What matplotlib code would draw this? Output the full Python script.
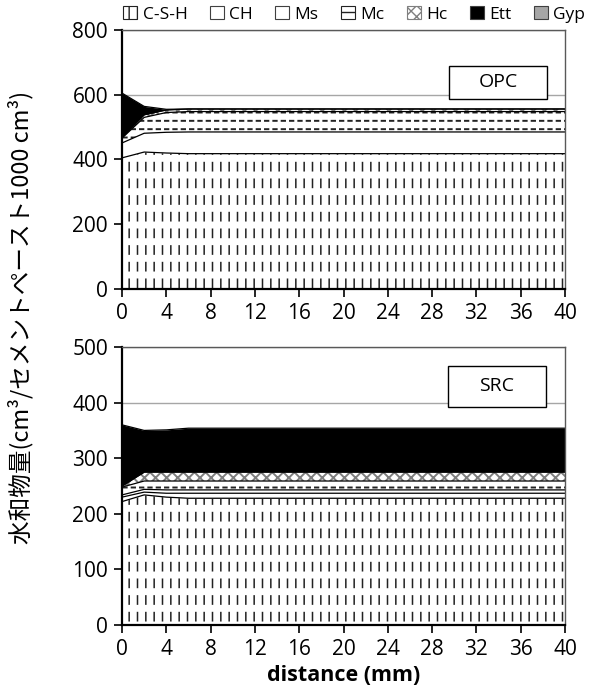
import numpy as np
import matplotlib.pyplot as plt
from matplotlib.patches import Patch, Rectangle

# distance from exposed surface (mm)
distance = [0, 2, 4, 6, 8, 10, 12, 14, 16, 18, 20, 22, 24, 26, 28, 30, 32, 34, 36, 38, 40]

# OPC hydrate volumes (cm3 / 1000 cm3 paste)
opc_csh = [405, 423, 420, 418, 418, 418, 418, 418, 418, 418, 418, 418, 418, 418, 418, 418, 418, 418, 418, 418, 418]
opc_ch = [46, 58, 64, 67, 67, 67, 67, 67, 67, 67, 67, 67, 67, 67, 67, 67, 67, 67, 67, 67, 67]
opc_ms = [0, 0, 0, 0, 0, 0, 0, 0, 0, 0, 0, 0, 0, 0, 0, 0, 0, 0, 0, 0, 0]
opc_mc = [15, 49, 61, 63, 63, 63, 63, 63, 63, 63, 63, 63, 63, 63, 63, 63, 63, 63, 63, 63, 63]
opc_hc = [2, 8, 8, 8, 8, 8, 8, 8, 8, 8, 8, 8, 8, 8, 8, 8, 8, 8, 8, 8, 8]
opc_ett = [137, 26, 2, 0, 0, 0, 0, 0, 0, 0, 0, 0, 0, 0, 0, 0, 0, 0, 0, 0, 0]
opc_gyp = [0, 0, 0, 0, 0, 0, 0, 0, 0, 0, 0, 0, 0, 0, 0, 0, 0, 0, 0, 0, 0]

# SRC hydrate volumes
src_csh = [222, 234, 230, 228, 228, 228, 228, 228, 228, 228, 228, 228, 228, 228, 228, 228, 228, 228, 228, 228, 228]
src_ch = [8, 5, 7, 9, 9, 9, 9, 9, 9, 9, 9, 9, 9, 9, 9, 9, 9, 9, 9, 9, 9]
src_ms = [4, 5, 6, 6, 6, 6, 6, 6, 6, 6, 6, 6, 6, 6, 6, 6, 6, 6, 6, 6, 6]
src_mc = [14, 15, 16, 16, 16, 16, 16, 16, 16, 16, 16, 16, 16, 16, 16, 16, 16, 16, 16, 16, 16]
src_hc = [2, 16, 16, 16, 16, 16, 16, 16, 16, 16, 16, 16, 16, 16, 16, 16, 16, 16, 16, 16, 16]
src_ett = [110, 75, 76, 79, 79, 79, 79, 79, 79, 79, 79, 79, 79, 79, 79, 79, 79, 79, 79, 79, 79]
src_gyp = [0, 0, 0, 0, 0, 0, 0, 0, 0, 0, 0, 0, 0, 0, 0, 0, 0, 0, 0, 0, 0]

phases = ['C-S-H', 'CH', 'Ms', 'Mc', 'Hc', 'Ett', 'Gyp']
x_ticks = [0, 4, 8, 12, 16, 20, 24, 28, 32, 36, 40]

# fill style per phase: face, hatch, hatch colour, white "breaker" hatch
styles = {
    'C-S-H': ('white', '||', '#222222', '-'),
    'CH': ('white', None, None, None),
    'Ms': ('white', None, None, None),
    'Mc': ('white', '--', '#222222', '||'),
    'Hc': ('white', 'xxx', '#7f7f7f', None),
    'Ett': ('black', None, None, None),
    'Gyp': ('#a6a6a6', None, None, None),
}

plt.rcParams['font.family'] = ['Open Sans', 'DejaVu Sans']


def hatched(ax, x, lo, hi, face, hatch, hcolor, lw):
    with plt.rc_context({'hatch.linewidth': lw}):
        coll = ax.fill_between(x, lo, hi, facecolor=face,
                               edgecolor=hcolor if hcolor else face,
                               hatch=hatch, linewidth=0)
    if hasattr(coll, 'set_hatch_linewidth'):
        coll.set_hatch_linewidth(lw)
    return coll


def draw_stack(ax, layers):
    x = np.array(distance)
    base = np.zeros(len(x))
    for name, vals in zip(phases, layers):
        top = base + np.array(vals)
        face, hatch, hcol, breaker = styles[name]
        if np.any(top > base):
            hatched(ax, x, base, top, face, hatch, hcol,
                    1.1 if name == 'C-S-H' else 1.4)
            if breaker:
                # white strokes chop the hatch lines into short dashes
                hatched(ax, x, base, top, 'none', breaker, 'white',
                        5.0 if name == 'C-S-H' else 2.2)
            ax.plot(x, top, color='black', lw=0.9)
        base = top


fig = plt.figure(figsize=(5.94, 6.91), dpi=100)
ax1 = fig.add_axes([0.2054, 0.5818, 0.7458, 0.3748])
ax2 = fig.add_axes([0.2054, 0.0955, 0.7458, 0.4023])

draw_stack(ax1, [opc_csh, opc_ch, opc_ms, opc_mc, opc_hc, opc_ett, opc_gyp])
draw_stack(ax2, [src_csh, src_ch, src_ms, src_mc, src_hc, src_ett, src_gyp])

ax1.set_ylim(0, 800)
ax1.set_yticks([0, 200, 400, 600, 800])
ax2.set_ylim(0, 500)
ax2.set_yticks([0, 100, 200, 300, 400, 500])

for ax in (ax1, ax2):
    ax.set_xlim(0, 40)
    ax.set_xticks(x_ticks)
    ax.yaxis.grid(True, color='#a6a6a6', lw=1)
    ax.set_axisbelow(True)
    ax.tick_params(labelsize=15, direction='out', length=6, width=1.2, pad=4)
    for s in ('left', 'bottom'):
        ax.spines[s].set_linewidth(1.6)
        ax.spines[s].set_color('black')
    for s in ('top', 'right'):
        ax.spines[s].set_linewidth(1.0)
        ax.spines[s].set_color('#595959')

# sample name boxes
for ax, name, (x0, y0, w, h) in ((ax1, 'OPC', (0.738, 0.734, 0.221, 0.127)),
                                 (ax2, 'SRC', (0.736, 0.784, 0.221, 0.148))):
    ax.add_patch(Rectangle((x0, y0), w, h, transform=ax.transAxes,
                           facecolor='white', edgecolor='black', lw=1.0, zorder=5))
    ax.text(x0 + w / 2, y0 + h / 2, name, transform=ax.transAxes,
            ha='center', va='center', fontsize=14, zorder=6)

handles = []
for name in phases:
    face, hatch, hcol, breaker = styles[name]
    handles.append(Patch(facecolor=face, edgecolor=hcol if hcol else '#404040',
                         hatch=hatch, linewidth=0.8))
fig.legend(handles, phases, loc='center', bbox_to_anchor=(0.596, 0.979), ncol=7,
           frameon=False, fontsize=12.5, handlelength=0.8, handleheight=0.8,
           handletextpad=0.3, columnspacing=1.3, borderaxespad=0)

fig.text(0.578, 0.023, 'distance (mm)', ha='center', va='center',
         fontsize=15.5, fontweight='bold')
fig.text(0.034, 0.54, '水和物量(cm³/セメントペースト1000 cm³)', rotation=90,
         ha='center', va='center', fontsize=17,
         family=['Noto Sans CJK JP', 'DejaVu Sans'])

fig.savefig('out.png', dpi=100)
